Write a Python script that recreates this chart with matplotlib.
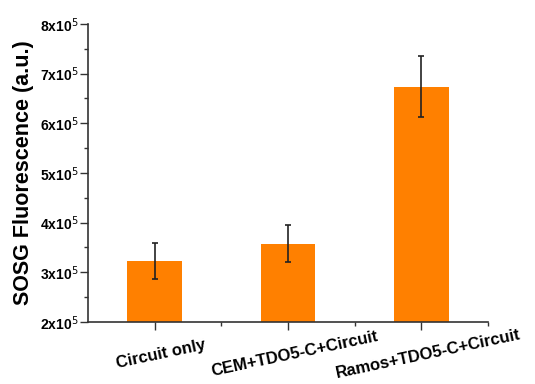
import matplotlib
matplotlib.use("Agg")
import matplotlib.pyplot as plt
from matplotlib.ticker import FixedLocator, MultipleLocator, NullFormatter

# data (values in units of 1e5)
labels = ["Circuit only", "CEM+TDO5-C+Circuit", "Ramos+TDO5-C+Circuit"]
values = [3.23, 3.58, 6.74]
errors = [0.36, 0.37, 0.61]
yticks = [2, 3, 4, 5, 6, 7, 8]

plt.rcParams['font.family'] = ['Liberation Sans', 'DejaVu Sans']

fig = plt.figure(figsize=(5.35, 3.84), dpi=100)
ax = fig.add_axes([0.1645, 0.1615, 0.7475, 0.776])

x = [1, 2, 3]
ax.bar(x, values, width=0.41, bottom=0, color='#ff8000', zorder=2)
ax.errorbar(x, values, yerr=errors, fmt='none', ecolor='#222222',
            elinewidth=1.2, capsize=2.2, capthick=1.2, zorder=3)

ax.set_xlim(0.5, 3.5)
ax.set_ylim(2, 8)
ax.yaxis.set_major_locator(FixedLocator(yticks))
ax.yaxis.set_minor_locator(MultipleLocator(0.5))
ax.set_yticklabels([f"{v}x10$^{{5}}$" for v in yticks], fontsize=10, fontweight='bold')
ax.xaxis.set_major_locator(FixedLocator(x))
ax.xaxis.set_minor_locator(FixedLocator([1.5, 2.5, 3.5]))
ax.xaxis.set_major_formatter(NullFormatter())

# category labels, rotated and centred a little right of / below each tick
xform = ax.get_xaxis_transform()
for xi, lab in zip(x, labels):
    ax.text(xi + 0.05, -0.107, lab, transform=xform, fontsize=12, fontweight='bold',
            rotation=12, rotation_mode='anchor', ha='center', va='center')

ax.tick_params(axis='both', which='major', direction='out', length=6, width=1, color='#333333', pad=2)
ax.tick_params(axis='y', which='major', pad=1)
ax.tick_params(axis='both', which='minor', direction='out', length=3, width=1, color='#333333')
for side in ['top', 'right']:
    ax.spines[side].set_visible(False)
for side in ['left', 'bottom']:
    ax.spines[side].set_color('#333333')
    ax.spines[side].set_linewidth(1.2)

ax.set_ylabel("SOSG Fluorescence (a.u.)", fontsize=15.5, fontweight='bold', labelpad=4)

fig.savefig("out.png", dpi=100)
